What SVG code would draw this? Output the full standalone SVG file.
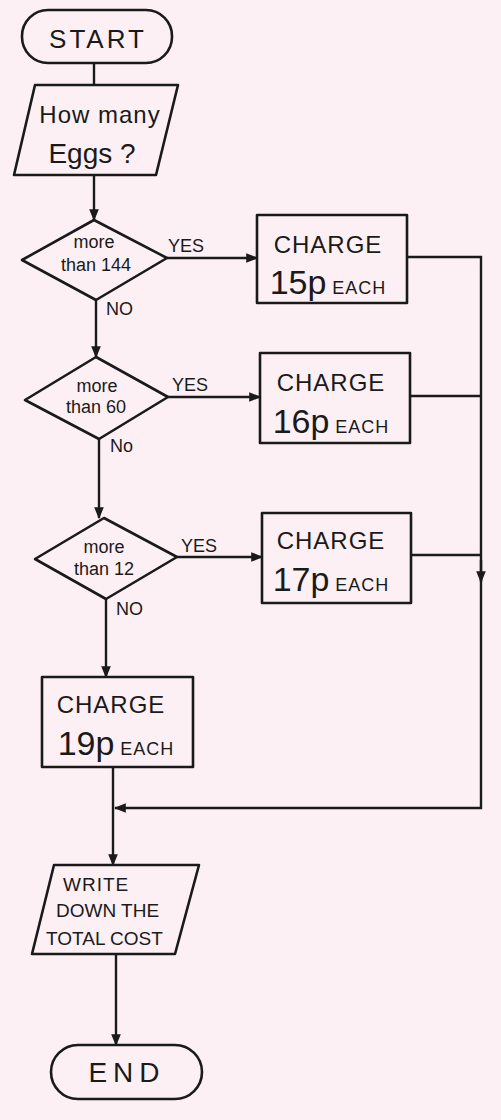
<svg xmlns="http://www.w3.org/2000/svg" width="501" height="1120" viewBox="0 0 501 1120">
<defs>
<marker id="ah" viewBox="0 0 10 10" refX="9" refY="5" markerWidth="5" markerHeight="5" orient="auto" markerUnits="strokeWidth">
<path d="M0,1 L10,5 L0,9 z" fill="#1a1a1a"/>
</marker>
<style>
.s{fill:none;stroke:#1a1a1a;stroke-width:2.6;stroke-linejoin:round}
.c{fill:none;stroke:#1a1a1a;stroke-width:2.4}
text{font-family:"Liberation Sans","DejaVu Sans",sans-serif;fill:#1a1a1a;text-anchor:middle}
.big{font-size:28px}
.mid{font-size:24px;letter-spacing:1px}
.term{font-size:26px;letter-spacing:3px}
.sm{font-size:18px}
.out{font-size:19px;text-anchor:start}
.lab{font-size:18px;text-anchor:start}
.num{font-size:34px}
.each{font-size:18px;letter-spacing:1px}
</style>
</defs>
<rect width="501" height="1120" fill="#fcf0f4"/>
<g id="connectors">
<path class="c" d="M94,63 V85"/>
<path class="c" d="M94,175 V220" marker-end="url(#ah)"/>
<path class="c" d="M167,258 H257" marker-end="url(#ah)"/>
<path class="c" d="M96,300 V357" marker-end="url(#ah)"/>
<path class="c" d="M168,397 H260" marker-end="url(#ah)"/>
<path class="c" d="M99,439 V518" marker-end="url(#ah)"/>
<path class="c" d="M177,557 H262" marker-end="url(#ah)"/>
<path class="c" d="M106,599 V677" marker-end="url(#ah)"/>
<path class="c" d="M407,257 H481 V808 H115" marker-end="url(#ah)"/>
<path class="c" d="M410,396 H481"/>
<path class="c" d="M411,555 H481"/>
<path class="c" d="M481,560 V582" marker-end="url(#ah)"/>
<path class="c" d="M113,767 V865" marker-end="url(#ah)"/>
<path class="c" d="M116,954 V1045" marker-end="url(#ah)"/>
<text class="lab" x="168" y="252">YES</text>
<text class="lab" x="106" y="315">NO</text>
<text class="lab" x="172" y="391">YES</text>
<text class="lab" x="110" y="452">No</text>
<text class="lab" x="181" y="552">YES</text>
<text class="lab" x="116" y="615">NO</text>
</g>
<g id="start">
<rect class="s" x="22" y="10" width="150" height="53" rx="26"/>
<text class="term" x="98" y="48">START</text>
</g>
<g id="input">
<path class="s" d="M35,85 H178 L156,175 H14 Z"/>
<text class="mid" x="100" y="123">How many</text>
<text class="big" x="92" y="163">Eggs ?</text>
</g>
<g id="d1">
<path class="s" d="M22,260 L94,220 L167,258 L96,300 Z"/>
<text class="sm" x="94" y="248">more</text>
<text class="sm" x="96" y="271">than 144</text>
</g>
<g id="b1">
<rect class="s" x="257" y="215" width="150" height="88"/>
<text class="mid" x="328" y="253">CHARGE</text>
<text x="328" y="294"><tspan class="num">15p</tspan><tspan class="each"> EACH</tspan></text>
</g>
<g id="d2">
<path class="s" d="M25,400 L96,357 L168,397 L99,439 Z"/>
<text class="sm" x="97" y="392">more</text>
<text class="sm" x="96" y="413">than 60</text>
</g>
<g id="b2">
<rect class="s" x="260" y="353" width="150" height="90"/>
<text class="mid" x="331" y="391">CHARGE</text>
<text x="331" y="433"><tspan class="num">16p</tspan><tspan class="each"> EACH</tspan></text>
</g>
<g id="d3">
<path class="s" d="M35,559 L104,518 L177,557 L106,599 Z"/>
<text class="sm" x="104" y="553">more</text>
<text class="sm" x="104" y="575">than 12</text>
</g>
<g id="b3">
<rect class="s" x="262" y="513" width="149" height="90"/>
<text class="mid" x="331" y="549">CHARGE</text>
<text x="331" y="591"><tspan class="num">17p</tspan><tspan class="each">  EACH</tspan></text>
</g>
<g id="b4">
<rect class="s" x="42" y="677" width="151" height="90"/>
<text class="mid" x="111" y="713">CHARGE</text>
<text x="116" y="755"><tspan class="num">19p</tspan><tspan class="each">  EACH</tspan></text>
</g>
<g id="output">
<path class="s" d="M54,865 H199 L175,954 H32 Z"/>
<text class="out" x="63" y="891" letter-spacing="1">WRITE</text>
<text class="out" x="56" y="917">DOWN THE</text>
<text class="out" x="46" y="945">TOTAL COST</text>
</g>
<g id="end">
<rect class="s" x="51" y="1045" width="151" height="54" rx="27"/>
<text class="term" x="127" y="1082" style="font-size:28px;letter-spacing:6px">END</text>
</g>
</svg>
